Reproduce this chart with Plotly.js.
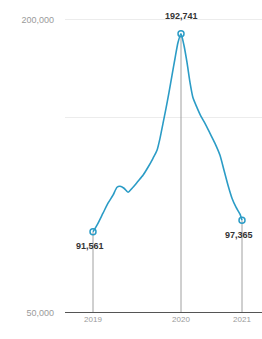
<!DOCTYPE html>
<html><head><meta charset="utf-8">
<script src="https://cdn.plot.ly/plotly-3.0.1.min.js"></script>
<style>html,body{margin:0;padding:0;background:#fff}#c{width:262px;height:339px}</style>
</head><body><div id="c"></div>
<script>
// step index along the period
const steps = [0,4,10,15,20,24,27,31,35,40,45,50,55,60,64,67,70,73,76,79,82,85,88,91,94,97,100,104,108,112,117,122,127,131,135,139,143,147,149];
const values = [91561,94898,101020,106122,110204,114286,114796,113775,111735,114286,117347,120408,124490,129082,133163,139286,146939,154592,162755,171429,180102,188265,192741,186735,178061,167857,160000,155000,150510,146918,141837,136735,130612,122959,115306,108673,104082,100510,97365];
const highlightIdx = [0,22,38];
const xTickLabels = ['2019','2020','2021'];
const yTickVals = [50000,150000,200000];
const yTickText = ['50,000','','200,000'];

const hx = highlightIdx.map(i=>steps[i]);
const hy = highlightIdx.map(i=>values[i]);
const fmt = v => v.toLocaleString('en-US');

const traces = [];
hx.forEach((x,k)=>{
  traces.push({x:[x,x], y:[50000,hy[k]], mode:'lines', line:{color:'#a0a0a0', width:1}, hoverinfo:'skip', showlegend:false});
});
traces.push({x:steps, y:values, mode:'lines', line:{color:'#2b9cc6', width:1.6, shape:'spline', smoothing:0.6}, showlegend:false});
traces.push({x:hx, y:hy, mode:'markers', marker:{symbol:'circle-open', size:6, color:'#2b9cc6', line:{width:1.5}}, showlegend:false, cliponaxis:false});

const annPos = [{xs:-3, ys:-14},{xs:0, ys:18},{xs:-3, ys:-15}];
const annotations = hx.map((x,k)=>({x:x, y:hy[k], text:'<b>'+fmt(hy[k])+'</b>', showarrow:false, xshift:annPos[k].xs, yshift:annPos[k].ys, font:{family:'Liberation Sans, Arial', size:9, color:'#333'}}));

Plotly.newPlot('c', traces, {
  width:262, height:339,
  margin:{l:65, r:0, t:0, b:26},
  paper_bgcolor:'#fff', plot_bgcolor:'#fff',
  font:{family:'Liberation Sans, Arial', size:8, color:'#9a9a9a'},
  xaxis:{range:[-28,169], tickvals:hx, ticktext:xTickLabels, showgrid:false, zeroline:false, showline:false, ticks:'', tickfont:{size:8, color:'#9a9a9a'}},
  yaxis:{range:[50000,210000], tickvals:yTickVals, ticktext:yTickText, showgrid:true, gridcolor:'#ececec', gridwidth:1, zeroline:false, showline:false, ticks:'', ticklabelstandoff:10, tickfont:{size:9, color:'#9a9a9a'}},
  shapes:[{type:'line', xref:'paper', yref:'y', x0:0, x1:1, y0:50000, y1:50000, line:{color:'#555', width:2}}],
  annotations:annotations
}, {displayModeBar:false, staticPlot:true});
</script></body></html>
